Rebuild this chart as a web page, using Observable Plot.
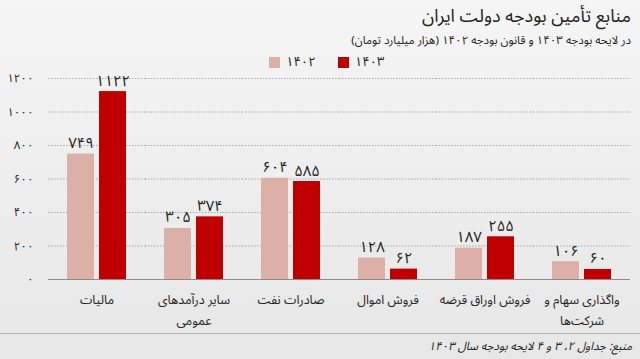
<!DOCTYPE html>
<html>
<head>
<meta charset="utf-8">
<script src="https://cdn.jsdelivr.net/npm/d3@7"></script>
<script src="https://cdn.jsdelivr.net/npm/@observablehq/plot@0.6"></script>
<style>
  html, body { margin: 0; padding: 0; }
  body { width: 640px; height: 359px; overflow: hidden; }
  #wrap {
    position: relative; width: 640px; height: 359px;
    background: linear-gradient(to bottom, #f5f5f5, #e7e7e7);
    font-family: "Noto Sans Arabic", "Vazirmatn", "DejaVu Sans", sans-serif;
    color: #222;
  }
  #title { position: absolute; right: 9px; top: 4px; font-size: 18px; line-height: 24px; direction: rtl; white-space: nowrap; }
  #subtitle { position: absolute; right: 9px; top: 33px; font-size: 11.5px; line-height: 14px; direction: rtl; white-space: nowrap; }
  #legend { position: absolute; left: 269px; top: 54px; font-size: 13px; line-height: 16px; display: flex; align-items: center; }
  #legend .sw { display: inline-block; width: 11px; height: 11px; margin-right: 6px; }
  #legend .item { display: flex; align-items: center; margin-right: 22px; }
  #chart { position: absolute; left: 0; top: 68px; }
  #chart svg { overflow: visible; }
  #sep { position: absolute; left: 0; top: 333px; width: 640px; height: 0; border-top: 1.5px solid #b3b3b3; }
  #source { position: absolute; right: 8px; top: 339px; font-size: 11.5px; line-height: 15px; font-style: italic; direction: rtl; white-space: nowrap; }
</style>
</head>
<body>
<div id="wrap">
  <div id="title"></div>
  <div id="subtitle"></div>
  <div id="legend"></div>
  <div id="chart"></div>
  <div id="sep"></div>
  <div id="source"></div>
</div>
<script>
const titleText = "منابع تأمین بودجه دولت ایران";
const subtitleText = "در لایحه بودجه ۱۴۰۳ و قانون بودجه ۱۴۰۲ (هزار میلیارد تومان)";
const sourceText = "منبع: جداول ۲، ۳ و ۴ لایحه بودجه سال ۱۴۰۳";

const categories = ["مالیات", "سایر درآمدهای\nعمومی", "صادرات نفت", "فروش اموال", "فروش اوراق قرضه", "واگذاری سهام و\nشرکت‌ها"];
const years = [1402, 1403];
const values1402 = [749, 305, 604, 128, 187, 106];
const values1403 = [1122, 374, 585, 62, 255, 60];
const yTicks = [0, 200, 400, 600, 800, 1000, 1200];
const colors = ["#ddb0a7", "#c00000"];

const fa = d => String(d).replace(/\d/g, c => "۰۱۲۳۴۵۶۷۸۹"[+c]);

const data = [];
categories.forEach((c, i) => {
  data.push({cat: c, year: years[0], value: values1402[i]});
  data.push({cat: c, year: years[1], value: values1403[i]});
});

document.getElementById("title").textContent = titleText;
document.getElementById("subtitle").textContent = subtitleText;
document.getElementById("source").textContent = sourceText;
const legend = document.getElementById("legend");
years.forEach((y, i) => {
  const item = document.createElement("span");
  item.className = "item";
  item.innerHTML = `<span class="sw" style="background:${colors[i]}"></span><span>${fa(y)}</span>`;
  legend.appendChild(item);
});

const fontFamily = "Noto Sans Arabic, Vazirmatn, DejaVu Sans, sans-serif";

const chart = Plot.plot({
  width: 640,
  height: 266,
  marginTop: 10,
  marginLeft: 48,
  marginRight: 10,
  marginBottom: 55,
  style: {background: "transparent", fontFamily, color: "#222", overflow: "visible"},
  fx: {domain: categories, paddingInner: 0, paddingOuter: 0},
  x: {domain: years, paddingInner: 0.15, paddingOuter: 0.55},
  y: {domain: [0, 1200]},
  color: {domain: years, range: colors},
  marks: [
    Plot.gridY(yTicks, {stroke: "#9a9a9a", strokeOpacity: 0.8, strokeDasharray: "1.5,1.5"}),
    Plot.axisY(yTicks, {tickSize: 0, tickPadding: 15, tickFormat: fa, fontSize: 11.5, label: null}),
    Plot.barY(data, {fx: "cat", x: "year", y: "value", fill: "year"}),
    Plot.ruleY([0], {stroke: "#8c8c8c", strokeWidth: 1.2}),
    Plot.text(data, {fx: "cat", x: "year", y: "value", text: d => fa(d.value), lineAnchor: "bottom", dy: -6, fontSize: 15, fill: "#222"}),
    Plot.axisFx({anchor: "bottom", tickSize: 0, tickPadding: 9, fontSize: 12.5, label: null, lineHeight: 1.7}),
    Plot.axisX({ticks: [], label: null})
  ]
});
document.getElementById("chart").appendChild(chart);
</script>
</body>
</html>
